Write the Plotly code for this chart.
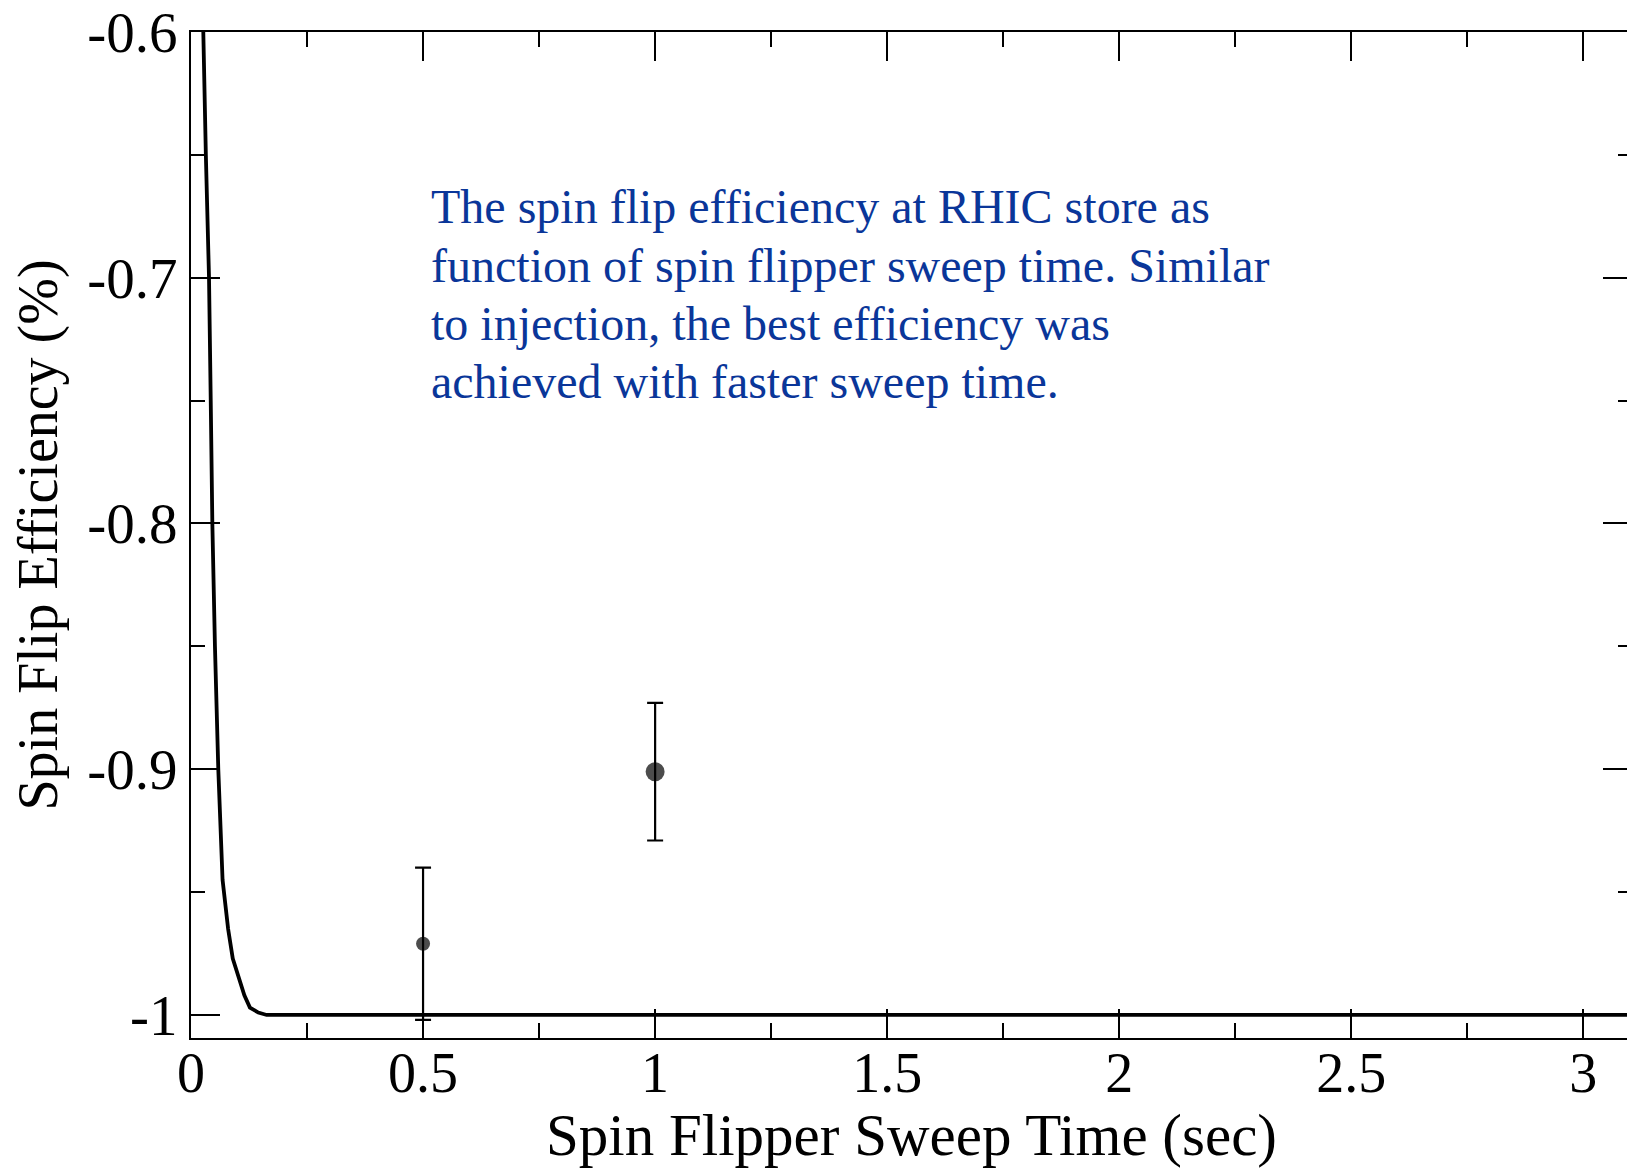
import plotly.graph_objects as go

# ---- data ----
curve_t = [0.0200, 0.0265, 0.0320, 0.0388, 0.0425, 0.0460, 0.0516, 0.0588,
           0.0680, 0.0730, 0.0800, 0.0900, 0.1040, 0.1150, 0.1270, 0.1450,
           0.1630, 3.2000]
curve_p = [-0.49, -0.60, -0.65, -0.70, -0.75, -0.80, -0.85, -0.90,
           -0.945, -0.955, -0.965, -0.977, -0.986, -0.992, -0.997, -0.999,
           -1.000, -1.000]

meas_t = [0.5, 1.0]
meas_p = [-0.971, -0.901]
meas_err = [0.031, 0.028]
meas_size = [14, 19]

x_tickvals = [0, 0.5, 1, 1.5, 2, 2.5, 3]
x_ticktext = ["0", "0.5", "1", "1.5", "2", "2.5", "3"]
y_tickvals = [-0.6, -0.7, -0.8, -0.9, -1.0]
y_ticktext = ["-0.6", "-0.7", "-0.8", "-0.9", "-1"]

note_lines = [
    "The spin flip efficiency at RHIC store as",
    "function of spin flipper sweep time. Similar",
    "to injection, the best efficiency was",
    "achieved with faster sweep time.",
]

# the original frame runs slightly past the right edge of the picture
W, H = 1634, 1168
L, R, T, B = 191, 0, 32, 130
plot_h = H - T - B
SERIF = "Liberation Serif, Times New Roman, serif"

fig = go.Figure()
fig.add_trace(go.Scatter(x=curve_t, y=curve_p, mode="lines",
                         line=dict(color="black", width=3.8),
                         showlegend=False, hoverinfo="skip"))
fig.add_trace(go.Scatter(x=meas_t, y=meas_p, mode="markers",
                         marker=dict(color="black", size=meas_size, symbol="circle",
                                     line=dict(width=0)),
                         error_y=dict(type="data", array=meas_err, visible=True,
                                      color="black", thickness=2.2, width=8),
                         showlegend=False))

axis_common = dict(showline=True, linecolor="black", linewidth=2, mirror="ticks",
                   ticks="inside", ticklen=29, tickwidth=2, tickcolor="black",
                   showgrid=False, zeroline=False)

fig.update_xaxes(range=[0, 3.1048], tickvals=x_tickvals, ticktext=x_ticktext,
                 ticklabelstandoff=-15,
                 tickfont=dict(family=SERIF, size=56, color="black"),
                 minor=dict(dtick=0.25, ticks="inside", ticklen=15, tickwidth=2,
                            tickcolor="black", showgrid=False),
                 title=dict(text="Spin Flipper Sweep Time (sec)", standoff=11,
                            font=dict(family=SERIF, size=59, color="black")),
                 **axis_common)
fig.update_yaxes(range=[-1.00937, -0.6], tickvals=y_tickvals, ticktext=y_ticktext,
                 tickfont=dict(family=SERIF, size=57, color="black"),
                 minor=dict(dtick=0.05, tick0=-0.6, ticks="inside", ticklen=14, tickwidth=2,
                            tickcolor="black", showgrid=False),
                 title=dict(text="Spin Flip Efficiency (%)", standoff=12,
                            font=dict(family=SERIF, size=56, color="black")),
                 **axis_common)

line_centers_px = [207, 265, 323, 381]
for txt, ypx in zip(note_lines, line_centers_px):
    fig.add_annotation(text=txt, xref="paper", yref="paper",
                       x=(429 - L) / (W - L - R), y=(H - B - ypx) / plot_h,
                       xanchor="left", yanchor="middle", showarrow=False,
                       font=dict(family=SERIF, size=48, color="#0A3699"))

fig.update_layout(width=W, height=H, margin=dict(l=L, r=R, t=T, b=B),
                  paper_bgcolor="white", plot_bgcolor="white")

fig.write_html("out.html", config={"displayModeBar": False},
               post_script="document.body.style.margin='0';document.body.style.overflow='hidden';")
